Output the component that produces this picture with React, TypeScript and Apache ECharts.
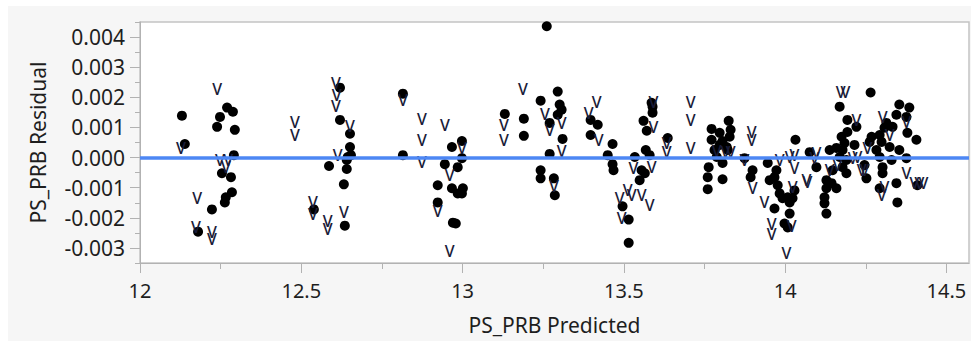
import React, { useEffect, useRef } from "react";
import * as echarts from "echarts";

// [PS_PRB Predicted, PS_PRB Residual] for the filled dots
const dotPoints: [number, number][] = [
  [12.130, 0.00139], [12.139, 0.00045], [12.270, 0.00166], [12.288, 0.00152], [12.248, 0.00135],
  [12.239, 0.00102], [12.294, 0.00092], [12.291, 0.00008], [12.254, -0.00052], [12.282, -0.00065],
  [12.285, -0.00115], [12.266, -0.00132], [12.263, -0.00149], [12.223, -0.00172], [12.180, -0.00246],
  [12.620, 0.00232], [12.620, 0.00125], [12.651, 0.00079], [12.651, 0.00035], [12.654, 0.00008],
  [12.644, 0.00002], [12.641, -0.00008], [12.586, -0.00028], [12.641, -0.00038], [12.632, -0.00089],
  [12.539, -0.00172], [12.635, -0.00226],
  [12.815, 0.00212], [12.815, 0.00008], [12.967, 0.00035], [12.998, 0.00055], [12.998, -0.00002],
  [12.985, -0.00032], [12.945, -0.00022], [12.923, -0.00092], [12.967, -0.00102], [12.985, -0.00119],
  [13.001, -0.00102], [12.998, -0.00119], [12.923, -0.00149], [12.970, -0.00216], [12.979, -0.00219],
  [13.261, 0.00436], [13.131, 0.00145], [13.190, 0.00129], [13.190, 0.00072], [13.242, 0.00189],
  [13.295, 0.00219], [13.301, 0.00176], [13.307, 0.00159], [13.295, 0.00142], [13.270, 0.00115],
  [13.310, 0.00062], [13.270, 0.00012], [13.242, -0.00042], [13.242, -0.00069], [13.283, -0.00069],
  [13.286, -0.00125],
  [13.397, 0.00125], [13.419, 0.00109], [13.397, 0.00075], [13.465, 0.00045], [13.450, 0.00008],
  [13.465, -0.00022], [13.468, -0.00042], [13.496, -0.00162], [13.515, -0.00206], [13.515, -0.00283],
  [13.534, 0.00002], [13.568, 0.00025], [13.580, 0.00008], [13.555, -0.00042], [13.565, -0.00052],
  [13.549, -0.00075], [13.561, 0.00122], [13.571, 0.00089], [13.589, 0.00169], [13.589, 0.00149],
  [13.586, 0.00182], [13.636, 0.00065],
  [13.772, 0.00095], [13.772, 0.00059], [13.797, 0.00082], [13.806, 0.00055], [13.825, 0.00122],
  [13.831, 0.00092], [13.828, 0.00069], [13.797, 0.00042], [13.781, 0.00025], [13.763, -0.00032],
  [13.760, -0.00065], [13.760, -0.00105], [13.806, -0.00018], [13.806, -0.00072], [13.822, 0.00025],
  [13.819, 0.00035], [13.788, 0.00002],
  [13.874, -0.00002], [13.899, -0.00042], [13.893, -0.00065], [13.946, -0.00018], [13.973, -0.00042],
  [13.967, -0.00065], [13.977, -0.00092], [13.983, -0.00119], [13.992, -0.00135], [14.008, -0.00132],
  [14.023, -0.00135], [14.014, -0.00149], [13.967, -0.00169], [14.014, -0.00186], [13.998, -0.00219],
  [14.008, -0.00232], [14.032, 0.00059], [14.076, 0.00018], [14.097, -0.00032], [13.952, -0.00075],
  [14.029, -0.00109],
  [14.128, -0.00075], [14.128, -0.00102], [14.122, -0.00132], [14.122, -0.00152], [14.128, -0.00186],
  [14.144, -0.00085], [14.159, -0.00102], [14.147, -0.00042], [14.169, 0.00002], [14.178, 0.00025],
  [14.184, 0.00048], [14.190, -0.00008], [14.178, -0.00032], [14.193, 0.00085], [14.193, 0.00125],
  [14.169, 0.00169], [14.221, 0.00102], [14.159, 0.00032], [14.138, 0.00025], [14.175, 0.00069],
  [14.190, -0.00052], [14.265, 0.00216], [14.246, -0.00025], [14.252, -0.00069], [14.268, 0.00069],
  [14.262, 0.00052], [14.293, 0.00075], [14.308, 0.00099], [14.314, 0.00115], [14.333, 0.00102],
  [14.283, 0.00025], [14.293, 0.00002], [14.302, -0.00032], [14.302, -0.00052], [14.293, -0.00102],
  [14.354, 0.00176], [14.345, 0.00142], [14.385, 0.00166], [14.376, 0.00135], [14.379, 0.00082],
  [14.407, 0.00059], [14.354, 0.00025], [14.376, -0.00002], [14.324, 0.00035], [14.345, -0.00085],
  [14.348, -0.00149], [14.299, 0.00052], [14.410, -0.00092], [14.215, 0.00042], [14.330, -0.00008],
];

// [PS_PRB Predicted, PS_PRB Residual] for the "V" markers
const vPoints: [number, number][] = [
  [12.239, 0.00229], [12.127, 0.00032], [12.248, -0.00008], [12.273, -0.00008], [12.266, -0.00032],
  [12.177, -0.00135], [12.173, -0.00229], [12.223, -0.00246], [12.223, -0.00269], [12.480, 0.00119],
  [12.480, 0.00075],
  [12.607, 0.00246], [12.610, 0.00209], [12.607, 0.00172], [12.651, 0.00105], [12.613, 0.00008],
  [12.536, -0.00149], [12.536, -0.00189], [12.582, -0.00212], [12.582, -0.00236], [12.632, -0.00182],
  [12.815, 0.00192], [12.874, 0.00129], [12.874, 0.00059], [12.874, -0.00015], [12.945, 0.00109],
  [12.998, 0.00032], [12.960, -0.00059], [12.923, -0.00176], [12.960, -0.00309],
  [13.187, 0.00226], [13.128, 0.00109], [13.128, 0.00059], [13.255, 0.00145], [13.270, 0.00092],
  [13.307, 0.00115], [13.307, 0.00022], [13.283, -0.00095],
  [13.416, 0.00186], [13.391, 0.00149], [13.422, 0.00059], [13.487, -0.00135], [13.493, -0.00202],
  [13.512, -0.00109], [13.524, -0.00125], [13.555, -0.00125], [13.580, -0.00159], [13.592, 0.00186],
  [13.592, 0.00102], [13.586, -0.00032], [13.530, -0.00035], [13.633, 0.00048], [13.633, 0.00018],
  [13.707, 0.00186], [13.707, 0.00125], [13.707, 0.00032], [13.788, 0.00022], [13.815, 0.00018],
  [13.831, 0.00018],
  [13.896, 0.00085], [13.896, 0.00059], [13.899, -0.00102], [13.936, -0.00149], [13.958, -0.00219],
  [13.958, -0.00253], [14.004, -0.00316], [13.983, -0.00008], [14.014, 0.00002], [14.029, 0.00008],
  [14.029, -0.00035], [14.023, -0.00099], [14.020, -0.00226], [14.066, -0.00075], [14.091, -0.00002],
  [14.097, 0.00015], [14.069, -0.00082], [13.874, -0.00008],
  [14.172, 0.00216], [14.187, 0.00216], [14.138, -0.00042], [14.162, -0.00025], [14.209, -0.00002],
  [14.224, 0.00002], [14.237, -0.00042], [14.255, 0.00032], [14.302, 0.00135], [14.308, -0.00099],
  [14.299, -0.00125], [14.376, -0.00052], [14.401, -0.00085], [14.416, -0.00085], [14.429, -0.00085],
  [14.376, 0.00119], [14.324, 0.00075], [14.221, 0.00125], [14.246, -0.00042],
];

const yTickValues = [-0.003, -0.002, -0.001, 0, 0.001, 0.002, 0.003, 0.004];
const yMinorValues = [-0.0035, -0.0025, -0.0015, -0.0005, 0.0005, 0.0015, 0.0025, 0.0035, 0.0045];
const xTickValues = [12, 12.5, 13, 13.5, 14, 14.5];
const xMinorValues = [12.25, 12.75, 13.25, 13.75, 14.25];
const yRange = { min: -0.0035, max: 0.0045 };
const xRange = { min: 12, max: 14.57 };

const FONT = "Noto Sans";
const TEXT = "#1e1e1e";
const AXIS = "#b2b2b2";

export default function App() {
  const ref = useRef<HTMLDivElement>(null);

  useEffect(() => {
    if (!ref.current) return;
    const chart = echarts.init(ref.current, undefined, { renderer: "svg" });
    chart.setOption({
      animation: false,
      grid: {
        left: 132,
        top: 16,
        right: 2,
        bottom: 78,
        show: true,
        backgroundColor: "#ffffff",
        borderColor: "#c4c4c4",
        borderWidth: 1.5,
      },
      xAxis: [
        {
          type: "value",
          min: xRange.min,
          max: xRange.max,
          position: "bottom",
          name: "PS_PRB Predicted",
          nameLocation: "middle",
          nameGap: 51,
          nameTextStyle: { fontFamily: FONT, fontSize: 21, color: TEXT },
          axisLine: { onZero: false, lineStyle: { color: AXIS, width: 1 } },
          axisTick: { customValues: xTickValues, length: 10, lineStyle: { color: AXIS } },
          axisLabel: {
            customValues: xTickValues,
            formatter: (v: number) => String(v),
            fontFamily: FONT,
            fontSize: 20,
            color: TEXT,
            margin: 17,
          },
          splitLine: { show: false },
        },
        {
          type: "value",
          min: xRange.min,
          max: xRange.max,
          position: "bottom",
          axisLine: { show: false, onZero: false },
          axisTick: { customValues: xMinorValues, length: 6, lineStyle: { color: AXIS } },
          axisLabel: { show: false },
          splitLine: { show: false },
        },
      ],
      yAxis: [
        {
          type: "value",
          min: yRange.min,
          max: yRange.max,
          position: "left",
          name: "PS_PRB Residual",
          nameLocation: "middle",
          nameGap: 92,
          nameTextStyle: { fontFamily: FONT, fontSize: 21, color: TEXT },
          axisLine: { show: true, onZero: false, lineStyle: { color: AXIS, width: 1 } },
          axisTick: { show: true, customValues: yTickValues, length: 10, lineStyle: { color: AXIS } },
          axisLabel: {
            customValues: yTickValues,
            formatter: (v: number) => v.toFixed(3),
            fontFamily: FONT,
            fontSize: 21,
            color: TEXT,
            margin: 15,
          },
          splitLine: { show: false },
        },
        {
          type: "value",
          min: yRange.min,
          max: yRange.max,
          position: "left",
          axisLine: { show: false, onZero: false },
          axisTick: { show: true, customValues: yMinorValues, length: 5, lineStyle: { color: AXIS } },
          axisLabel: { show: false },
          splitLine: { show: false },
        },
      ],
      series: [
        {
          type: "scatter",
          data: [],
          z: 1,
          markLine: {
            silent: true,
            symbol: ["none", "none"],
            label: { show: false },
            lineStyle: { color: "#4d87f4", width: 3.5, type: "solid", opacity: 1 },
            data: [{ yAxis: 0 }],
          },
        },
        {
          type: "scatter",
          z: 3,
          data: dotPoints,
          symbol: "circle",
          symbolSize: 10,
          itemStyle: { color: "#000000", opacity: 1 },
        },
        {
          type: "scatter",
          z: 4,
          data: vPoints,
          symbol: "circle",
          symbolSize: 1,
          itemStyle: { color: "rgba(0,0,0,0)", opacity: 1 },
          label: {
            show: true,
            position: "inside",
            formatter: "V",
            fontFamily: FONT,
            fontSize: 16,
            fontWeight: 500,
            color: "#1a1c38",
          },
        },
      ],
    });
    return () => chart.dispose();
  }, []);

  return (
    <div style={{ position: "absolute", left: 0, top: 0, width: 971, height: 341, background: "#ffffff" }}>
      <div style={{ position: "absolute", left: 8, top: 6, width: 963, height: 335, background: "#f6f6f6" }}>
        <div ref={ref} style={{ width: 963, height: 335 }} />
      </div>
    </div>
  );
}
